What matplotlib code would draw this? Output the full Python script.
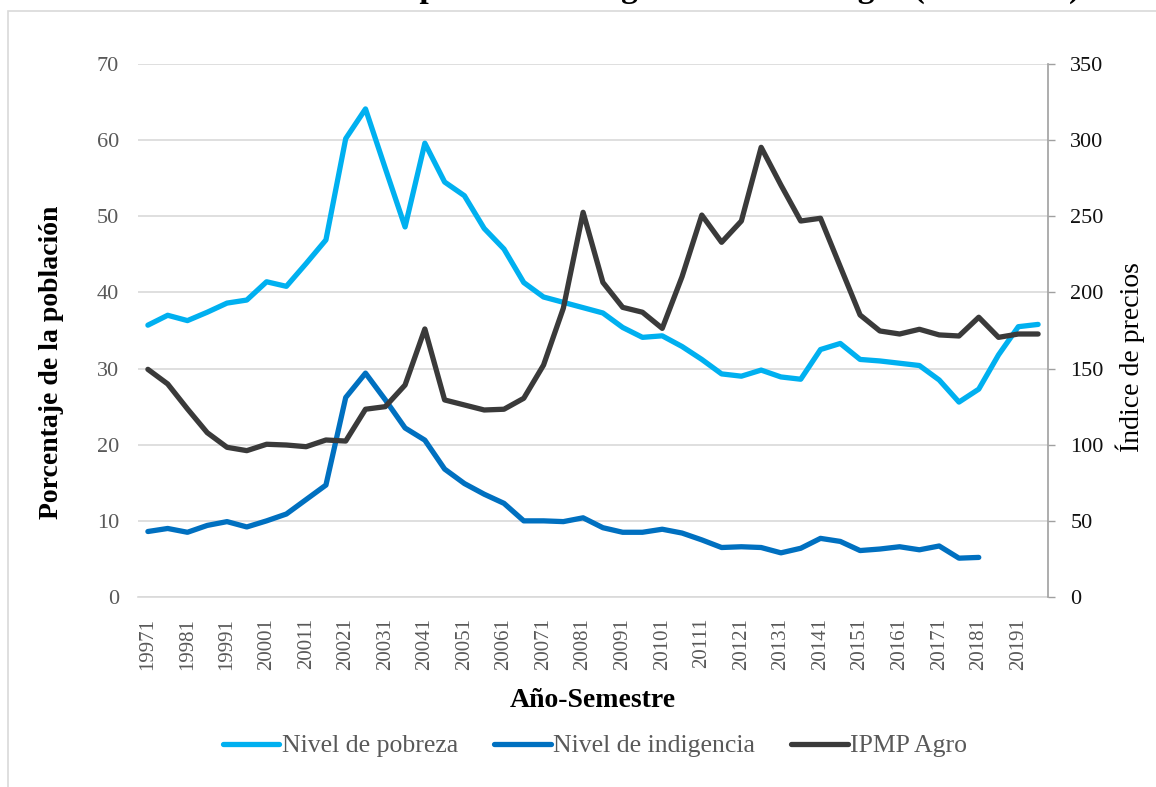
import matplotlib
matplotlib.use("Agg")
import matplotlib.pyplot as plt
from matplotlib.patches import Rectangle
import numpy as np

# ---- data ----
categories = ["19971", "19972", "19981", "19982", "19991", "19992", "20001", "20002",
              "20011", "20012", "20021", "20022", "20031", "20032", "20041", "20042",
              "20051", "20052", "20061", "20062", "20071", "20072", "20081", "20082",
              "20091", "20092", "20101", "20102", "20111", "20112", "20121", "20122",
              "20131", "20132", "20141", "20142", "20151", "20152", "20161", "20162",
              "20171", "20172", "20181", "20182", "20191", "20192"]

pobreza = [35.7, 37.0, 36.3, 37.4, 38.6, 39.0, 41.4, 40.8, 43.8, 46.9,
           60.2, 64.1, 56.3, 48.6, 59.6, 54.5, 52.7, 48.4, 45.7, 41.3,
           39.4, 38.7, 38.0, 37.3, 35.4, 34.1, 34.3, 32.9, 31.2, 29.3,
           29.0, 29.8, 28.9, 28.6, 32.5, 33.3, 31.2, 31.0, 30.7, 30.4,
           28.5, 25.6, 27.3, 31.8, 35.5, 35.8]

indigencia = [8.6, 9.0, 8.5, 9.4, 9.9, 9.2, 10.0, 10.9, 12.8, 14.7,
              26.2, 29.4, 25.9, 22.2, 20.6, 16.8, 14.9, 13.5, 12.3, 10.0,
              10.0, 9.9, 10.4, 9.1, 8.5, 8.5, 8.9, 8.4, 7.5, 6.5,
              6.6, 6.5, 5.8, 6.4, 7.7, 7.3, 6.1, 6.3, 6.6, 6.2,
              6.7, 5.1, 5.2, None, None, None]

ipmp_agro = [149.5, 139.9, 123.5, 107.9, 98.3, 96.1, 100.3, 99.8, 98.7, 103.1,
             102.4, 123.3, 125.0, 139.2, 176.0, 129.4, 126.1, 122.8, 123.3, 130.5,
             152.3, 189.6, 252.6, 206.6, 190.2, 187.0, 176.4, 210.3, 250.8, 232.9,
             246.9, 295.3, 270.5, 246.9, 248.7, 216.9, 185.2, 174.7, 172.7, 175.8,
             172.1, 171.4, 183.7, 170.5, 172.7, 172.7]

series_names = ["Nivel de pobreza", "Nivel de indigencia", "IPMP Agro"]
colors = ["#00B0F0", "#0070C0", "#3A3A3A"]

title = "Nivel de pobreza e indigencia e IPMP Agro (1997-2019)"
ylabel_left = "Porcentaje de la población"
ylabel_right = "Índice de precios"
xlabel = "Año-Semestre"

# ---- figure ----
plt.rcParams["font.family"] = ["Liberation Serif", "DejaVu Serif"]
W, H = 1156, 787
fig = plt.figure(figsize=(W / 100, H / 100), dpi=100)
fig.patch.set_facecolor("white")

# outer chart border
fig.add_artist(Rectangle((8 / W, -0.05), 1.2, 1.05 - 11 / H, transform=fig.transFigure,
                         fill=False, edgecolor="#D9D9D9", linewidth=1.2))

ax = fig.add_axes([138 / W, 1 - 597 / H, (1048 - 138) / W, (597 - 64) / H])
ax2 = ax.twinx()

x = np.arange(len(categories))
ind = np.array([np.nan if v is None else v for v in indigencia], dtype=float)

lw = 3.8
l1, = ax.plot(x, pobreza, color=colors[0], lw=lw, solid_capstyle="round",
              solid_joinstyle="round", label=series_names[0], zorder=3)
l2, = ax.plot(x, ind, color=colors[1], lw=lw, solid_capstyle="round",
              solid_joinstyle="round", label=series_names[1], zorder=3)
l3, = ax2.plot(x, ipmp_agro, color=colors[2], lw=lw, solid_capstyle="round",
               solid_joinstyle="round", label=series_names[2], zorder=3)

ax.set_xlim(-0.5, len(categories) - 0.5)
ax.set_ylim(0, 70)
ax.set_yticks(np.arange(0, 71, 10))
ax2.set_ylim(0, 350)
ax2.set_yticks(np.arange(0, 351, 50))

ax.set_xticks(x[::2])
ax.set_xticklabels(categories[::2], rotation=90, fontsize=15, color="#595959")
ax.tick_params(axis="x", length=0, pad=15)
ax.tick_params(axis="y", length=0, pad=13.5, labelsize=16, labelcolor="#595959")

ax.grid(axis="y", color="#D9D9D9", linewidth=1.2)
ax.set_axisbelow(True)
for s in ["left", "top", "right"]:
    ax.spines[s].set_visible(False)
ax.spines["bottom"].set_color("#D9D9D9")
ax.spines["bottom"].set_linewidth(1.2)

for s in ["left", "top", "bottom"]:
    ax2.spines[s].set_visible(False)
ax2.spines["right"].set_color("#A0A0A0")
ax2.spines["right"].set_linewidth(1.2)
ax2.tick_params(axis="y", length=5, width=1.0, color="#A0A0A0", pad=11,
                labelsize=16, labelcolor="#111111")

ax.set_ylabel(ylabel_left, fontsize=20, fontweight="bold", color="black")
ax.yaxis.set_label_coords(-0.081, 0.44)
ax2.set_ylabel(ylabel_right, fontsize=20, color="black")
ax2.yaxis.set_label_coords(1.0745, 0.45)
ax.set_xlabel(xlabel, fontsize=20, fontweight="bold", color="black")
ax.xaxis.set_label_coords(0.50, -0.17)

fig.text(1080 / W, 1 + 3 / H, title, ha="right", va="baseline", fontsize=24,
         fontweight="bold", color="black")

leg = fig.legend(handles=[l1, l2, l3], labels=series_names, loc="center",
                 bbox_to_anchor=(595 / W, 1 - 746 / H), ncol=3, frameon=False,
                 fontsize=18.5, handlelength=2.2, handletextpad=0.1,
                 columnspacing=1.4)
for t in leg.get_texts():
    t.set_color("#595959")

fig.savefig("out.png", dpi=100)
